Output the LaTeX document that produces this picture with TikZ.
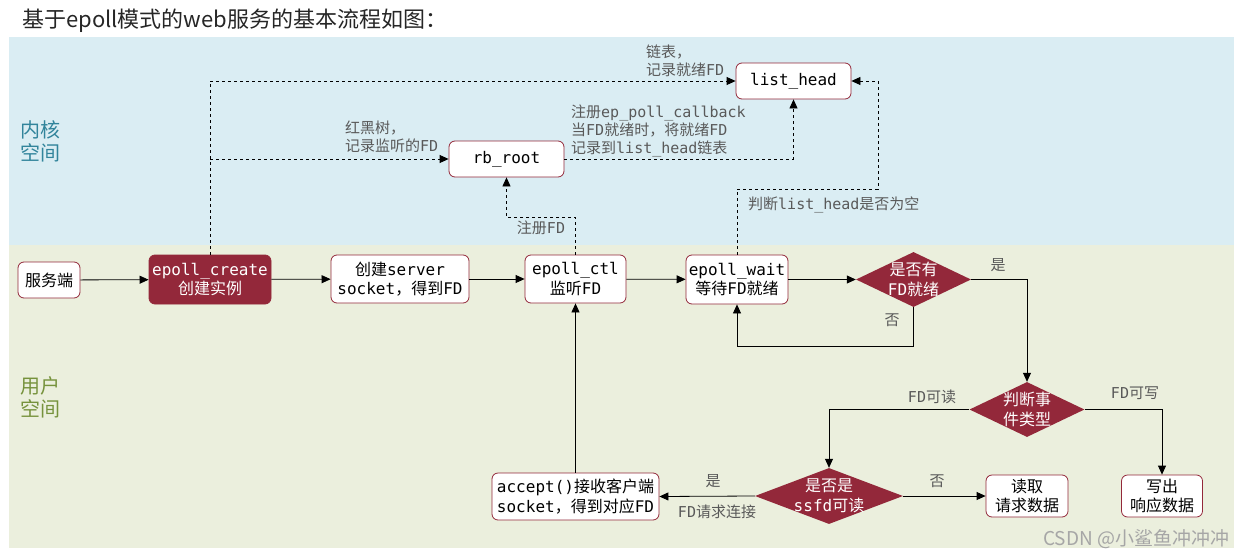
\documentclass[tikz,border=0pt]{standalone}
\usepackage{fontspec}
\setmainfont{DejaVu Sans Mono}
\newfontfamily\cjk{Noto Sans CJK SC}
\newfontfamily\titlefont{Noto Sans CJK SC}
\usetikzlibrary{arrows.meta,shapes.geometric}
\newcommand{\zh}[1]{{\cjk #1}}
\definecolor{kred}{HTML}{93283A}
\definecolor{kblue}{HTML}{DAEDF3}
\definecolor{ugreen}{HTML}{EBEFDD}
\definecolor{lblue}{HTML}{31849B}
\definecolor{lgreen}{HTML}{76923C}
\definecolor{lbl}{HTML}{595959}
\tikzset{
  box/.style={draw=kred, line width=0.8pt, fill=white, rounded corners=6pt, align=center,
    font=\fontsize{16}{19.5}\selectfont, inner sep=1pt, text=black},
  redbox/.style={box, fill=kred, text=white},
  dia/.style={diamond, fill=kred, inner sep=0pt},
  diatext/.style={text=white, align=center, font=\fontsize{16}{19.5}\selectfont, inner sep=0pt},
  lab/.style={text=lbl, align=left, font=\fontsize{15}{18}\selectfont, inner sep=0pt},
  side/.style={align=left, anchor=west, inner sep=0pt, font=\cjk\fontsize{20}{23}\selectfont},
  arr/.style={draw=black, line width=0.8pt, -{Triangle[length=9pt,width=8pt]}},
  darr/.style={arr, dash pattern=on 3pt off 3pt}
}
\begin{document}
\begin{tikzpicture}[x=1pt,y=-1pt]
\useasboundingbox (0,0) rectangle (1248,557);
\fill[white] (0,0) rectangle (1248,557);
\fill[kblue] (9,37) rectangle (1234,245);
\fill[ugreen] (9,245) rectangle (1234,548);

\node[anchor=west, inner sep=0pt, text=black!85, font=\titlefont\fontsize{22}{26}\selectfont] (title) at (22,21) {基于epoll模式的web服务的基本流程如图：};
\node[side, text=lblue] (kern) at (20,141) {内核\\空间};
\node[side, text=lgreen] (user) at (20,397) {用户\\空间};
\node[anchor=west, inner sep=0pt, text=black!35, font=\titlefont\fontsize{19}{22}\selectfont] (wm) at (1043,539) {CSDN @小鲨鱼冲冲冲};

% nodes
\node[box, minimum width=62pt, minimum height=36pt] (srv) at (49,280) {\zh{服务端}};
\node[redbox, minimum width=122pt, minimum height=49pt] (create) at (210,279.5) {epoll\_create\\\zh{创建实例}};
\node[box, minimum width=138pt, minimum height=48pt] (sock) at (400,279) {\zh{创建}server\\socket\zh{，得到}FD};
\node[box, minimum width=101pt, minimum height=48pt] (ctl) at (575.5,279) {epoll\_ctl\\\zh{监听}FD};
\node[box, minimum width=102pt, minimum height=49pt] (wait) at (737,279.5) {epoll\_wait\\\zh{等待}FD\zh{就绪}};
\node[dia, minimum width=115pt, minimum height=55pt] (d1) at (913.5,279.5) {};
\node[diatext] (d1t) at (d1) {\zh{是否有}\\FD\zh{就绪}};
\node[box, minimum width=115pt, minimum height=36pt] (rb) at (506.5,159) {rb\_root};
\node[box, minimum width=115pt, minimum height=36pt] (lh) at (793.5,81) {list\_head};
\node[dia, minimum width=115pt, minimum height=55pt] (d2) at (1027,409.5) {};
\node[diatext] (d2t) at (d2) {\zh{判断事}\\\zh{件类型}};
\node[dia, minimum width=148pt, minimum height=56pt] (d3) at (829,496) {};
\node[diatext] (d3t) at (d3) {\zh{是否是}\\ssfd\zh{可读}};
\node[box, minimum width=167pt, minimum height=47pt] (acc) at (575.5,496.5) {accept()\zh{接收客户端}\\socket\zh{，得到对应}FD};
\node[box, minimum width=82pt, minimum height=42pt] (read) at (1027,496) {\zh{读取}\\\zh{请求数据}};
\node[box, minimum width=81pt, minimum height=42pt] (write) at (1162,496) {\zh{写出}\\\zh{响应数据}};

% solid connectors
\draw[arr] (srv) -- (create);
\draw[arr] (create) -- (sock);
\draw[arr] (sock) -- (ctl);
\draw[arr] (ctl) -- (wait);
\draw[arr] (wait) -- (d1);
\draw[arr] (d1.east) -| (d2.north);
\coordinate (loop) at (913.5,346);
\draw[arr] (d1.south) -- (loop) -| (wait.south);
\draw[arr] (d2.west) -| (d3.north);
\draw[arr] (d2.east) -| (write.north);
\draw[arr] (d3.west) -- (acc.east);
\draw[arr] (d3.east) -- (read.west);
\draw[arr] (acc.north) -- (ctl.south);

% dashed connectors
\coordinate (c1) at (210,81);
\draw[darr] (create.north) -- (c1) -- (lh.west);
\draw[darr] (create.north |- rb.west) -- (rb.west);
\coordinate (c2) at (506.5,217);
\draw[darr] (ctl.north) |- (c2) -- (rb.south);
\draw[darr] (rb.east) -| (lh.south);
\coordinate (c3) at (878,189);
\draw[darr] (wait.north) |- (c3) |- (lh.east);

% labels
\node[lab, anchor=west] (l1) at (646,61) {\zh{链表，}\\\zh{记录就绪}FD};
\node[lab, anchor=west] (l2) at (345,137) {\zh{红黑树，}\\\zh{记录监听的}FD};
\node[lab, anchor=west] (l3) at (571,131) {\zh{注册}ep\_poll\_callback\\\zh{当}FD\zh{就绪时，将就绪}FD\\\zh{记录到}list\_head\zh{链表}};
\node[lab] (l4) at (541,228) {\zh{注册}FD};
\node[lab, anchor=west] (l5) at (748,205) {\zh{判断}list\_head\zh{是否为空}};
\node[lab] (l6) at (998,265) {\zh{是}};
\node[lab] (l7) at (892,320) {\zh{否}};
\node[lab] (l8) at (932,397) {FD\zh{可读}};
\node[lab] (l9) at (1135,393) {FD\zh{可写}};
\node[lab] (l10) at (713,481) {\zh{是}};
\node[lab] (l11) at (717,512) {FD\zh{请求连接}};
\node[lab] (l12) at (937,481) {\zh{否}};
\end{tikzpicture}
\end{document}
